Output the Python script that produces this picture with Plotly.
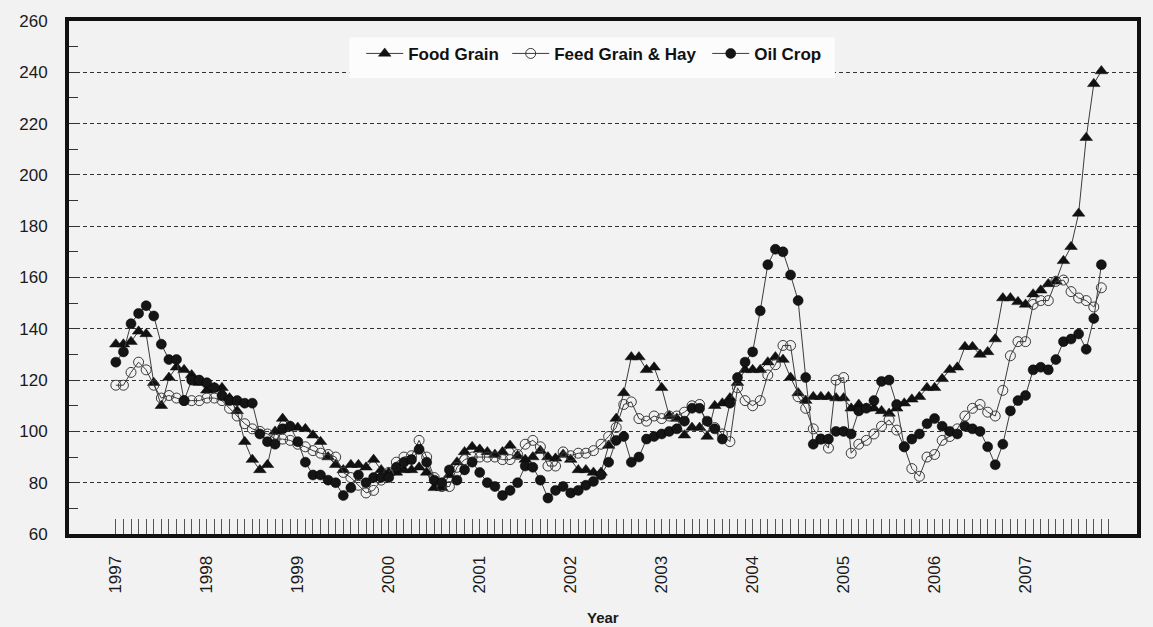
import plotly.graph_objects as go

years = ["1997", "1998", "1999", "2000", "2001", "2002", "2003", "2004", "2005", "2006", "2007"]

food = [134, 134, 135, 139, 138, 119, 110, 121, 125, 124, 122, 119,
        116, 117, 117, 113, 108, 96, 89, 85, 87, 100, 105, 102,
        101.5, 101, 98.5, 96, 90, 87, 85, 87, 87, 86, 89, 85,
        84, 84, 85, 85, 86, 84, 78, 78, 83, 88, 92, 94,
        93, 92, 91, 92, 94.5, 90.5, 89, 90, 92.5, 90, 89.5, 91,
        89, 85, 85, 84, 84, 94.5, 105, 115, 129, 129, 124, 125,
        117, 106, 105, 98.5, 101.5, 101.5, 98, 110, 111, 113, 119, 124,
        124, 124, 127, 129, 128, 121, 115, 112, 113.5, 113.5, 113.5, 113,
        113, 109, 110.5, 109, 109, 108, 107, 109, 111, 112.5, 113.5, 117,
        117, 120.5, 124, 125, 133, 133, 130, 131, 136, 152, 152, 150.5,
        149.5, 153.5, 155, 157.5, 158.5, 166.5, 172, 185, 214.5, 235.5, 240.5]

feed = [118, 118, 123, 127, 124, 118, 113, 114, 113, 112, 112, 112,
        113, 113, 112, 109, 106, 103, 101, 100, 99, 97, 97, 96.5,
        95, 94, 92.5, 91.5, 91, 90, 84, 82, 79, 76, 77, 81,
        84, 88, 90, 90.5, 96.5, 90, 82, 78.5, 78.5, 86, 89, 90,
        90, 90, 90, 89, 89, 91, 95, 96.5, 94, 86.5, 86.5, 92,
        90.5, 91.5, 91.5, 92.5, 95, 98, 101.5, 110.5, 111.5, 105, 104, 106,
        105, 106, 106, 107.5, 110, 110.5, 102, 101.5, 99, 96, 117, 112,
        110, 112, 122, 126, 133.5, 133.5, 113.5, 109, 101, 97, 93.5, 120,
        121, 91.5, 95, 96.5, 99, 102, 104.5, 100.5, 94, 85.5, 82.5, 90,
        91, 96.5, 98, 101, 106, 109, 110.5, 107.5, 106, 116, 129.5, 135,
        135, 149.5, 151, 151, 158.5, 159, 154.5, 152, 151, 148.5, 156]

oil = [127, 131, 142, 146, 149, 145, 134, 128, 128, 112, 120, 120,
       119, 117, 114, 112, 112, 111, 111, 99, 96, 95, 101, 102,
       96, 88, 83, 83, 81, 80, 75, 78, 83, 80, 82, 82,
       82, 86, 88, 89, 93, 88, 81, 80, 85, 81, 85, 88,
       84, 80, 78.5, 75, 77, 80, 86.5, 86, 81, 74, 77, 78.5,
       76, 77, 79, 80.5, 83, 88, 96.5, 98, 88, 90, 97, 98,
       99, 100, 101, 104, 109, 109, 104, 101, 97, 111, 121, 127,
       131, 147, 165, 171, 170, 161, 151, 121, 95, 97, 97, 100,
       100, 99, 108, 109, 112, 119.5, 120, 110.5, 94, 97, 99, 103,
       105, 102, 100, 99, 102, 101, 100, 94, 87, 95, 108, 112,
       114, 124, 125, 124, 128, 135, 136, 138, 132, 144, 165]

x = list(range(len(food)))
tickvals = list(range(len(food) + 1))
ticktext = [years[i // 12] if i % 12 == 0 and i // 12 < len(years) else "" for i in tickvals]

FONT = "Arial, Liberation Sans, sans-serif"
line_style = dict(color="#3c3c3c", width=1)

fig = go.Figure()
fig.add_trace(go.Scatter(
    x=x, y=food, name="Food Grain", mode="lines+markers", line=line_style, legendwidth=94,
    marker=dict(symbol="triangle-up", size=11, color="#111111",
                line=dict(color="#111111", width=0.5))))
fig.add_trace(go.Scatter(
    x=x, y=feed, name="Feed Grain & Hay", mode="lines+markers", line=line_style, legendwidth=148,
    marker=dict(symbol="circle-open", size=10, color="#3a3a3a",
                line=dict(width=1))))
fig.add_trace(go.Scatter(
    x=x, y=oil, name="Oil Crop", mode="lines+markers", line=line_style, legendwidth=70,
    marker=dict(symbol="circle", size=10, color="#151515",
                line=dict(color="#000000", width=0.5))))

fig.update_layout(
    width=1153, height=627,
    margin=dict(l=69, r=13, t=15, b=93),
    paper_bgcolor="#f2f2f2", plot_bgcolor="#f2f2f2",
    font=dict(family=FONT, size=17, color="#1a1a1a"),
    showlegend=True,
    legend=dict(orientation="h", x=0.2736, xanchor="left", y=0.971, yanchor="top",
                bgcolor="rgba(0,0,0,0)", borderwidth=0,
                font=dict(family=FONT, size=17, color="#111111", weight="bold"),
                itemwidth=37),
    shapes=[dict(type="rect", xref="paper", yref="paper",
                 x0=0.2624, x1=0.7171, y0=0.889, y1=0.968,
                 fillcolor="#fcfcfc", line=dict(width=0), layer="above")],
    xaxis=dict(range=[-6.18, 134.7], tickmode="array", tickvals=tickvals, ticktext=ticktext,
               tickangle=-90, ticks="inside", ticklen=15, tickwidth=1.3, tickcolor="#555555",
               ticklabelstandoff=11, showgrid=False, zeroline=False,
               showline=True, linewidth=4, linecolor="#111111", mirror=True,
               tickfont=dict(family=FONT, size=17, color="#1a1a1a")),
    yaxis=dict(range=[60, 260], tickmode="linear", tick0=60, dtick=20,
               ticks="inside", ticklen=9, tickwidth=1.3, tickcolor="#333333",
               minor=dict(dtick=10, ticks="inside", ticklen=9, tickwidth=1.3, tickcolor="#333333",
                          showgrid=False),
               showgrid=True, gridcolor="#333333", gridwidth=1, griddash="4px,3px",
               zeroline=False, showline=True, linewidth=4, linecolor="#111111", mirror=True,
               ticklabelstandoff=14,
               tickfont=dict(family=FONT, size=17, color="#1a1a1a")),
    annotations=[dict(text="<b>Year</b>", x=0.5, xref="paper", y=-0.163, yref="paper",
                      xanchor="center", yanchor="middle", showarrow=False,
                      font=dict(family=FONT, size=15, color="#1a1a1a"))],
)

fig.write_html("out.html", config={"displayModeBar": False},
               post_script="document.body.style.margin='0px';"
                           "document.body.style.backgroundColor='#f2f2f2';")
